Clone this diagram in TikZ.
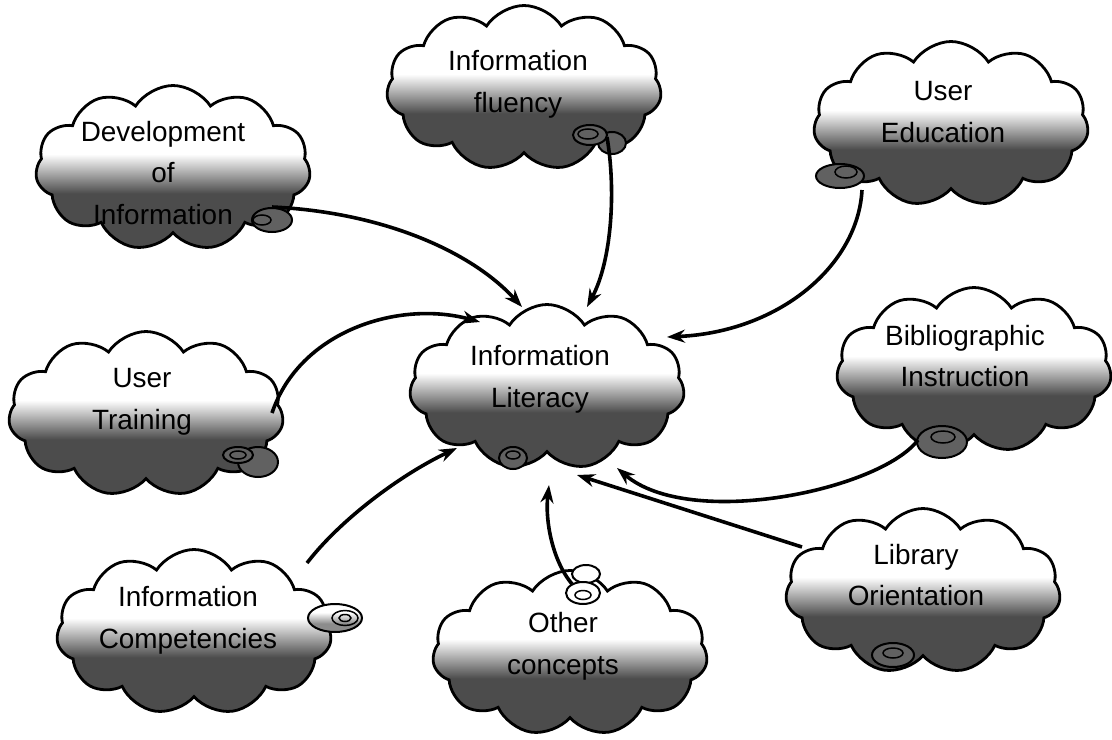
\documentclass[tikz,border=0pt]{standalone}
\usepackage{fontspec}
\setmainfont{Liberation Sans}
\usetikzlibrary{shapes.symbols,shapes.geometric,arrows.meta}
\pgfdeclareverticalshading{cloudshade}{100bp}{color(0bp)=(black!70); color(42bp)=(black!70); color(54bp)=(white); color(100bp)=(white)}
\pgfdeclareverticalshading{midshade}{100bp}{color(0bp)=(black!45); color(40bp)=(black!45); color(60bp)=(white); color(100bp)=(white)}
\begin{document}
\begin{tikzpicture}[x=1bp,y=-1bp,
  cloudbox/.style={cloud, cloud puffs=11, cloud puff arc=115, aspect=1.67, draw=black, line width=2.8bp, shading=cloudshade, minimum width=275bp, minimum height=165bp, inner sep=0pt},
  cloudtext/.style={font=\fontsize{28}{42}\selectfont, align=center, text=black},
  darkbub/.style={ellipse, draw=black, line width=2bp, fill=black!62, inner sep=0pt},
  midbub/.style={ellipse, draw=black, line width=2bp, shading=midshade, inner sep=0pt},
  whitebub/.style={ellipse, draw=black, line width=2bp, fill=white, inner sep=0pt},
  ring/.style={ellipse, draw=black, line width=1.5bp, inner sep=0pt},
  conn/.style={line width=3.6bp, -{Stealth[length=18bp,width=13bp]}}
]
\useasboundingbox[fill=white] (0,0) rectangle (1112,740);

% clouds
\node[cloudbox] (dev) at (173,168) {};
\node[cloudbox] (flu) at (524,88) {};
\node[cloudbox] (ued) at (951,124) {};
\node[cloudbox] (utr) at (146,414) {};
\node[cloudbox] (lit) at (547,387) {};
\node[cloudbox] (bib) at (974,370) {};
\node[cloudbox] (com) at (194,632) {};
\node[cloudbox] (oth) at (570,653) {};
\node[cloudbox] (lib) at (923,591) {};

% thought bubbles
\node[darkbub, minimum width=40bp, minimum height=24bp] (devb) at (272,220) {};
\node[ring, minimum width=18bp, minimum height=10bp] (devr) at (262,220) {};
\node[darkbub, minimum width=28bp, minimum height=22bp] (flub2) at (612,143) {};
\node[darkbub, minimum width=34bp, minimum height=20bp] (flub) at (590,135) {};
\node[ring, minimum width=20bp, minimum height=10bp] (flur) at (588,134) {};
\node[darkbub, minimum width=48bp, minimum height=24bp] (uedb) at (840,176) {};
\node[ring, minimum width=22bp, minimum height=12bp] (uedr) at (846,172) {};
\node[darkbub, minimum width=40bp, minimum height=30bp] (utrb2) at (258,462) {};
\node[darkbub, minimum width=30bp, minimum height=16bp] (utrb) at (238,455) {};
\node[ring, minimum width=16bp, minimum height=8bp] (utrr) at (238,455) {};
\node[darkbub, minimum width=28bp, minimum height=22bp] (litb) at (513,458) {};
\node[ring, minimum width=14bp, minimum height=8bp] (litr) at (513,455) {};
\node[darkbub, minimum width=50bp, minimum height=32bp] (bibb) at (942,442) {};
\node[ring, minimum width=24bp, minimum height=12bp] (bibr) at (943,437) {};
\node[darkbub, minimum width=42bp, minimum height=24bp] (libb) at (893,655) {};
\node[ring, minimum width=20bp, minimum height=10bp] (libr) at (893,653) {};
\node[midbub, minimum width=54bp, minimum height=28bp] (comb) at (335,618) {};
\node[ring, minimum width=26bp, minimum height=15bp] (comr) at (345,618) {};
\node[ring, minimum width=12bp, minimum height=7bp] (comr2) at (345,618) {};
\node[whitebub, minimum width=28bp, minimum height=18bp] (othb2) at (586,574) {};
\node[whitebub, minimum width=34bp, minimum height=22bp] (othb) at (583,593) {};
\node[ring, minimum width=16bp, minimum height=9bp] (othr) at (583,595) {};

% texts
\node[cloudtext] (devt) at (163,173) {Development\\of\\Information};
\node[cloudtext] (flut) at (518,84) {Information\\fluency};
\node[cloudtext] (uedt) at (943,112) {User\\Education};
\node[cloudtext] (utrt) at (142,402) {User\\Training};
\node[cloudtext] (litt) at (540,379) {Information\\Literacy};
\node[cloudtext] (bibt) at (965,356) {Bibliographic\\Instruction};
\node[cloudtext] (comt) at (188,620) {Information\\Competencies};
\node[cloudtext] (otht) at (563,646) {Other\\concepts};
\node[cloudtext] (libt) at (916,575) {Library\\Orientation};

% connector end points
\coordinate (devs) at (272,207);
\coordinate (deve) at (522,307);
\coordinate (flus) at (607,137);
\coordinate (flue) at (587,307);
\coordinate (ueds) at (862,190);
\coordinate (uede) at (667,337);
\coordinate (utrs) at (272,413);
\coordinate (utre) at (480,322);
\coordinate (bibs) at (918,440);
\coordinate (bibe) at (617,468);
\coordinate (libs) at (802,547);
\coordinate (libe) at (577,475);
\coordinate (oths) at (572,584);
\coordinate (othe) at (549,485);
\coordinate (coms) at (307,563);
\coordinate (come) at (457,448);

% connectors
\draw[conn] (devs) .. controls (380,212) and (470,250) .. (deve);
\draw[conn] (flus) .. controls (616,190) and (612,260) .. (flue);
\draw[conn] (ueds) .. controls (858,265) and (780,332) .. (uede);
\draw[conn] (utrs) .. controls (300,330) and (400,300) .. (utre);
\draw[conn] (bibs) .. controls (880,490) and (690,530) .. (bibe);
\draw[conn] (libs) -- (libe);
\draw[conn] (oths) .. controls (552,560) and (545,520) .. (othe);
\draw[conn] (coms) .. controls (340,520) and (400,475) .. (come);
\end{tikzpicture}
\end{document}
